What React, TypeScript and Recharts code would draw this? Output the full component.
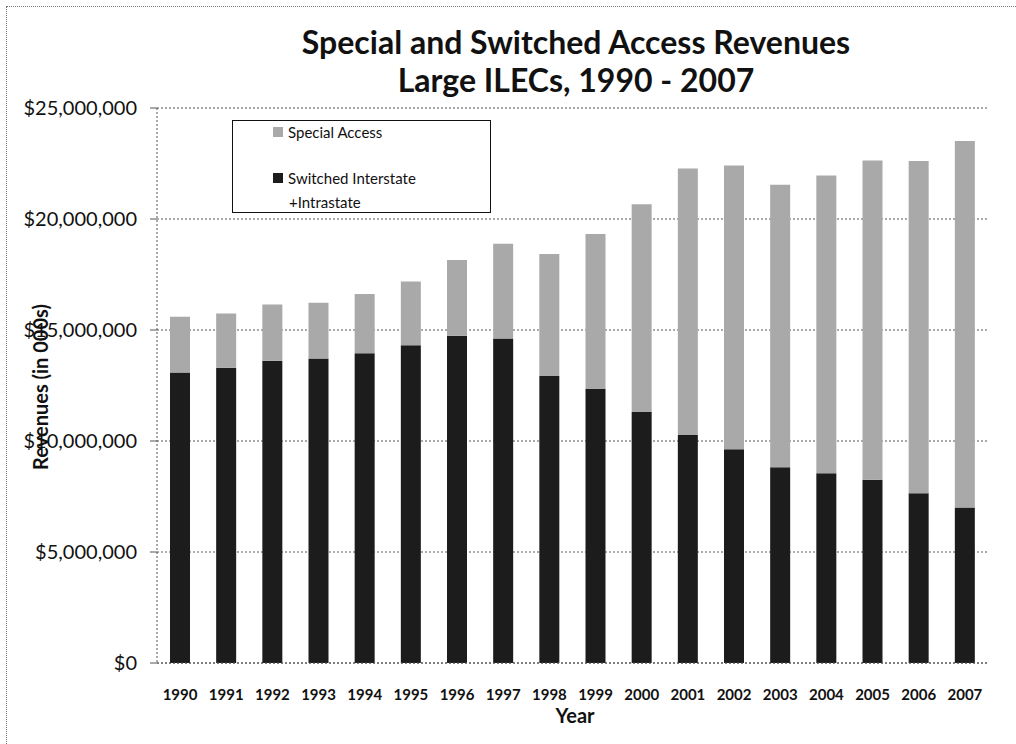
import { BarChart, Bar, XAxis, YAxis, CartesianGrid } from "recharts";

const YEARS = [
  "1990", "1991", "1992", "1993", "1994", "1995", "1996", "1997", "1998",
  "1999", "2000", "2001", "2002", "2003", "2004", "2005", "2006", "2007",
];

// revenues in $000s
const SWITCHED = [
  13080000, 13300000, 13620000, 13720000, 13950000, 14310000, 14740000, 14620000, 12930000,
  12340000, 11310000, 10270000, 9630000, 8820000, 8550000, 8250000, 7650000, 7000000,
];
const SPECIAL = [
  2520000, 2440000, 2530000, 2510000, 2670000, 2870000, 3410000, 4260000, 5490000,
  6980000, 9350000, 12010000, 12780000, 12720000, 13410000, 14390000, 14960000, 16510000,
];

const Y_TICKS = [0, 5000000, 10000000, 15000000, 20000000, 25000000];

const SPECIAL_COLOR = "#a9a9a9";
const SWITCHED_COLOR = "#1c1c1c";
const FONT = "Lato, 'Open Sans', sans-serif";

const data = YEARS.map((year, i) => ({
  year,
  switched: SWITCHED[i],
  special: SPECIAL[i],
}));

const money = (v: number) => "$" + v.toLocaleString("en-US");

function LegendBox() {
  return (
    <div
      style={{
        position: "absolute",
        left: 232,
        top: 120,
        width: 257,
        height: 91,
        border: "1.5px solid #111",
        background: "#fff",
        fontFamily: FONT,
        fontSize: 15,
        color: "#111",
      }}
    >
      <div style={{ position: "absolute", left: 40, top: 2, display: "flex", alignItems: "center" }}>
        <span style={{ width: 10, height: 10, background: SPECIAL_COLOR, marginRight: 5 }} />
        Special Access
      </div>
      <div style={{ position: "absolute", left: 40, top: 48, display: "flex", alignItems: "center" }}>
        <span style={{ width: 10, height: 10, background: SWITCHED_COLOR, marginRight: 5 }} />
        Switched Interstate
      </div>
      <div style={{ position: "absolute", left: 56, top: 72 }}>+Intrastate</div>
    </div>
  );
}

export default function App() {
  return (
    <div
      style={{
        position: "absolute",
        left: 0,
        top: 0,
        width: 1016,
        height: 744,
        background: "#fff",
        overflow: "hidden",
      }}
    >
      <div
        style={{
          position: "absolute",
          left: 6,
          top: 6,
          right: 0,
          bottom: 0,
          borderTop: "1px dotted #777",
          borderLeft: "1px dotted #777",
        }}
      />
      <BarChart
        width={1016}
        height={744}
        data={data}
        margin={{ top: 108, right: 28, left: 17, bottom: 0 }}
        barSize={20}
        style={{ position: "absolute", left: 0, top: 0 }}
      >
        <CartesianGrid vertical={false} stroke="#555" strokeDasharray="2 2" />
        <XAxis
          dataKey="year"
          height={81}
          axisLine={{ stroke: "#555", strokeDasharray: "2 2" }}
          tickLine={false}
          tickSize={0}
          tickMargin={26}
          interval={0}
          tick={{ fill: "#111", fontSize: 15, fontWeight: 700, fontFamily: FONT }}
        />
        <YAxis
          width={140}
          domain={[0, 25000000]}
          ticks={Y_TICKS}
          tickFormatter={money}
          axisLine={{ stroke: "#555", strokeDasharray: "2 2" }}
          tickLine={{ stroke: "#555" }}
          tickSize={7}
          tickMargin={13}
          tick={{ fill: "#111", fontSize: 20, fontFamily: FONT }}
        />
        <Bar dataKey="switched" stackId="a" fill={SWITCHED_COLOR} isAnimationActive={false} />
        <Bar dataKey="special" stackId="a" fill={SPECIAL_COLOR} isAnimationActive={false} />
      </BarChart>
      <LegendBox />
      <div
        style={{
          position: "absolute",
          left: 266,
          width: 620,
          top: 23,
          textAlign: "center",
          fontFamily: FONT,
          fontWeight: 700,
          fontSize: 32,
          lineHeight: "38px",
          color: "#111",
        }}
      >
        Special and Switched Access Revenues
        <br />
        Large ILECs, 1990 - 2007
      </div>
      <div
        style={{
          position: "absolute",
          left: 520,
          width: 110,
          top: 703,
          textAlign: "center",
          fontFamily: FONT,
          fontWeight: 700,
          fontSize: 20,
          color: "#111",
        }}
      >
        Year
      </div>
      <div
        style={{
          position: "absolute",
          left: 40,
          top: 387,
          transform: "translate(-50%, -50%) rotate(-90deg)",
          whiteSpace: "nowrap",
          fontFamily: FONT,
          fontWeight: 700,
          fontSize: 20,
          color: "#111",
        }}
      >
        Revenues (in 000s)
      </div>
    </div>
  );
}
